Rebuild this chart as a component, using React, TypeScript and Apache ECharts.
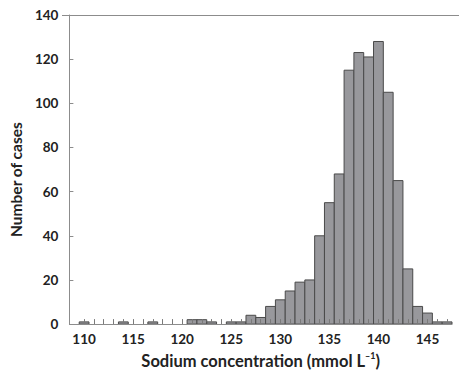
import React, { useEffect, useRef } from "react";
import * as echarts from "echarts";

const sodiumValues: number[] = [110, 114, 117, 121, 122, 123, 125, 126, 127, 128, 129, 130, 131, 132, 133, 134, 135, 136, 137, 138, 139, 140, 141, 142, 143, 144, 145, 146, 147];
const caseCounts: number[] = [1, 1, 1, 2, 2, 1, 1, 1, 4, 3, 8, 11, 15, 19, 20, 40, 55, 68, 115, 123, 121, 128, 105, 65, 25, 8, 5, 1, 1];
const xTickValues: number[] = [110, 111, 112, 113, 114, 115, 116, 117, 118, 119, 120, 121, 122, 123, 124, 125, 126, 127, 128, 129, 130, 131, 132, 133, 134, 135, 136, 137, 138, 139, 140, 141, 142, 143, 144, 145, 146, 147];
const xLabelValues: number[] = [110, 115, 120, 125, 130, 135, 140, 145];

const FONT = "Lato";

export default function App() {
  const ref = useRef<HTMLDivElement>(null);
  useEffect(() => {
    if (!ref.current) return;
    const chart = echarts.init(ref.current, undefined, { renderer: "svg" });
    const data = sodiumValues.map((v, i) => [v, caseCounts[i]]);
    chart.setOption({
      animation: false,
      backgroundColor: "#ffffff",
      grid: { left: 62, top: 15, right: 7, bottom: 46, containLabel: false },
      xAxis: {
        type: "value",
        min: 108.5,
        max: 147.5,
        z: 10,
        name: "{n|Sodium concentration (mmol L}{s|–1}{n|)}",
        nameLocation: "middle",
        nameGap: 20,
        nameTextStyle: {
          padding: [0, 0, 0, 0],
          rich: {
            n: { fontFamily: FONT, fontWeight: "bold", fontSize: 16.5, color: "#222", lineHeight: 19 },
            s: { fontFamily: FONT, fontWeight: "bold", fontSize: 9, color: "#222", verticalAlign: "top", lineHeight: 19, padding: [0, 0, 8, 0] },
          },
        },
        axisLine: { show: true, lineStyle: { color: "#8c8c8c", width: 1 } },
        axisTick: { show: true, inside: true, length: 5, customValues: xTickValues, lineStyle: { color: "#7a7a7a", width: 1 } },
        axisLabel: {
          customValues: xLabelValues,
          margin: 8,
          fontFamily: FONT,
          fontWeight: "bold",
          fontSize: 13.5,
          color: "#222",
        },
        splitLine: { show: false },
      },
      yAxis: {
        type: "value",
        min: 0,
        max: 140,
        interval: 20,
        z: 10,
        name: "Number of cases",
        nameLocation: "middle",
        nameGap: 42,
        nameTextStyle: { fontFamily: FONT, fontWeight: "bold", fontSize: 15.5, color: "#222", padding: [0, 20, 0, 0] },
        axisLine: { show: true, lineStyle: { color: "#8c8c8c", width: 1 } },
        axisTick: { show: true, inside: true, length: 4, lineStyle: { color: "#8c8c8c" } },
        axisLabel: { margin: 11, fontFamily: FONT, fontWeight: "bold", fontSize: 13.5, color: "#222" },
        splitLine: { show: false },
      },
      graphic: [
        {
          type: "line",
          shape: { x1: 62, y1: 15.5, x2: 459, y2: 15.5 },
          style: { stroke: "#8c8c8c", lineWidth: 1 },
          z: 5,
        },
      ],
      series: [
        {
          type: "custom",
          data,
          encode: { x: 0, y: 1 },
          renderItem: (params: any, api: any) => {
            const x = api.value(0);
            const y = api.value(1);
            const tl = api.coord([x - 0.5, y]);
            const br = api.coord([x + 0.5, 0]);
            return {
              type: "rect",
              shape: { x: tl[0], y: tl[1], width: br[0] - tl[0], height: br[1] - tl[1] },
              style: { fill: "#98989c", stroke: "#4a4a4a", lineWidth: 1 },
            };
          },
        },
      ],
    });
    return () => chart.dispose();
  }, []);
  return <div ref={ref} style={{ position: "absolute", left: 0, top: 0, width: 459, height: 374 }} />;
}
